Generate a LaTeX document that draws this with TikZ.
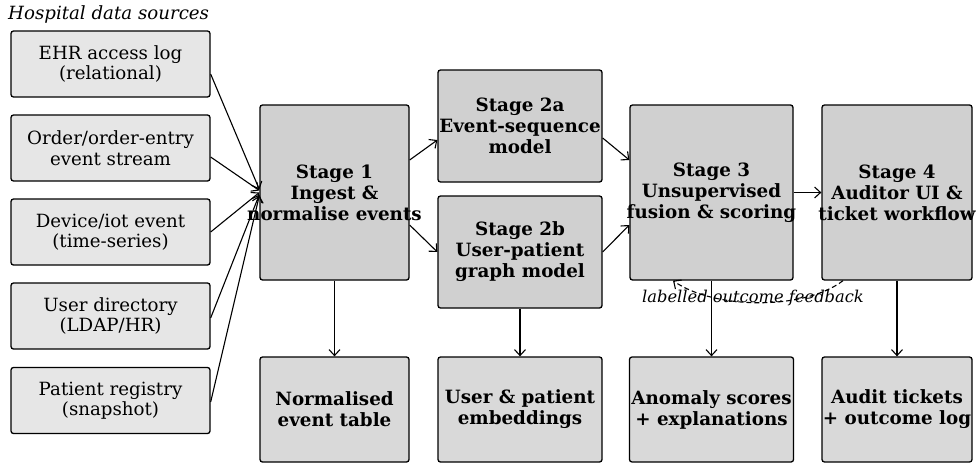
\documentclass[tikz,border=0pt]{standalone}
\usepackage{fontspec}
\setmainfont{DejaVu Serif}
\usetikzlibrary{arrows.meta,calc}
\definecolor{srcfill}{HTML}{E6E6E6}
\definecolor{stagefill}{HTML}{D0D0D0}
\definecolor{outfill}{HTML}{D9D9D9}
\tikzset{
  boxbase/.style={draw, line width=1.3pt, rounded corners=2.5pt, inner sep=0pt},
  srcbox/.style={boxbase, fill=srcfill, minimum width=199pt, minimum height=66pt},
  stagebox/.style={boxbase, fill=stagefill, minimum height=175pt},
  smallstage/.style={stagebox, minimum height=112pt, minimum width=164pt},
  outbox/.style={boxbase, fill=outfill, minimum height=105pt},
  srctext/.style={align=center, inner sep=0pt, font=\fontsize{18.2}{20.5}\selectfont},
  boldtext/.style={align=center, inner sep=0pt, font=\fontsize{18.3}{21}\selectfont\bfseries},
  conn/.style={line width=1.1pt, -{Straight Barb[length=6pt,width=11pt,line width=1.1pt]}},
}
\begin{document}
\begin{tikzpicture}[x=1pt,y=-1pt]
\useasboundingbox (0,0) rectangle (976,463);
\node[anchor=west, font=\fontsize{18.2}{21}\selectfont\itshape, inner sep=0pt] (title) at (8,14) {Hospital data sources};
\node[srcbox] (src1) at (110.5,64) {};
\node[srcbox] (src2) at (110.5,148) {};
\node[srcbox] (src3) at (110.5,232) {};
\node[srcbox] (src4) at (110.5,316) {};
\node[srcbox] (src5) at (110.5,400.5) {};
\node[srctext] (src1t) at (src1) {EHR access log\\(relational)};
\node[srctext] (src2t) at (src2) {Order/order-entry\\event stream};
\node[srctext] (src3t) at (src3) {Device/iot event\\(time-series)};
\node[srctext] (src4t) at (src4) {User directory\\(LDAP/HR)};
\node[srctext] (src5t) at (src5) {Patient registry\\(snapshot)};

\node[stagebox, minimum width=149pt] (s1) at (334.5,192.5) {};
\node[smallstage] (s2a) at (520,126) {};
\node[smallstage] (s2b) at (520,252) {};
\node[stagebox, minimum width=163pt] (s3) at (711.5,192.5) {};
\node[stagebox, minimum width=150pt] (s4) at (897,192.5) {};
\node[boldtext] (s1t) at (s1) {Stage 1\\Ingest \&\\normalise events};
\node[boldtext] (s2at) at (s2a) {Stage 2a\\Event-sequence\\model};
\node[boldtext] (s2bt) at (s2b) {Stage 2b\\User-patient\\graph model};
\node[boldtext] (s3t) at (s3) {Stage 3\\Unsupervised\\fusion \& scoring};
\node[boldtext] (s4t) at (s4) {Stage 4\\Auditor UI \&\\ticket workflow};

\node[outbox, minimum width=149pt] (o1) at (334.5,409.5) {};
\node[outbox, minimum width=164pt] (o2) at (520,409.5) {};
\node[outbox, minimum width=164pt] (o3) at (711.5,409.5) {};
\node[outbox, minimum width=150pt] (o4) at (897,409.5) {};
\node[boldtext] (o1t) at (o1) {Normalised\\event table};
\node[boldtext] (o2t) at (o2) {User \& patient\\embeddings};
\node[boldtext] (o3t) at (o3) {Anomaly scores\\+ explanations};
\node[boldtext] (o4t) at (o4) {Audit tickets\\+ outcome log};

\draw[conn] ($(src1.east)+(0,10)$) -- ($(s1.west)+(0,-3)$);
\draw[conn] ($(src2.east)+(0,9)$) -- ($(s1.west)+(0,-2)$);
\draw[conn] (src3.east) -- (s1.west);
\draw[conn] ($(src4.east)+(0,2)$) -- ($(s1.west)+(0,2)$);
\draw[conn] ($(src5.east)+(0,1.5)$) -- ($(s1.west)+(0,3)$);

\draw[conn] ($(s1.east)+(0,-32.5)$) -- ($(s2a.west)+(0,14)$);
\draw[conn] ($(s1.east)+(0,32.5)$) -- (s2b.west);
\draw[conn] ($(s2a.east)+(0,12)$) -- ($(s3.west)+(0,-32.5)$);
\draw[conn] (s2b.east) -- ($(s3.west)+(0,32.5)$);
\draw[conn] (s3.east) -- (s4.west);

\draw[conn] (s1.south) -- (o1.north);
\draw[conn] (s2b.south) -- (o2.north);
\draw[conn] (s3.south) -- (o3.north);
\draw[conn] (s4.south) -- (o4.north);

\coordinate (fbA) at ($(s4.south)+(-54,0)$);
\coordinate (fbB) at ($(s3.south)+(-38.5,0)$);
\draw[conn, dash pattern=on 5pt off 3pt] (fbA) .. controls (805,310) and (715,310) .. (fbB);
\node[font=\fontsize{16.3}{19}\selectfont\itshape, inner sep=0pt] (fblabel) at (753,298) {labelled outcome feedback};
\end{tikzpicture}
\end{document}
